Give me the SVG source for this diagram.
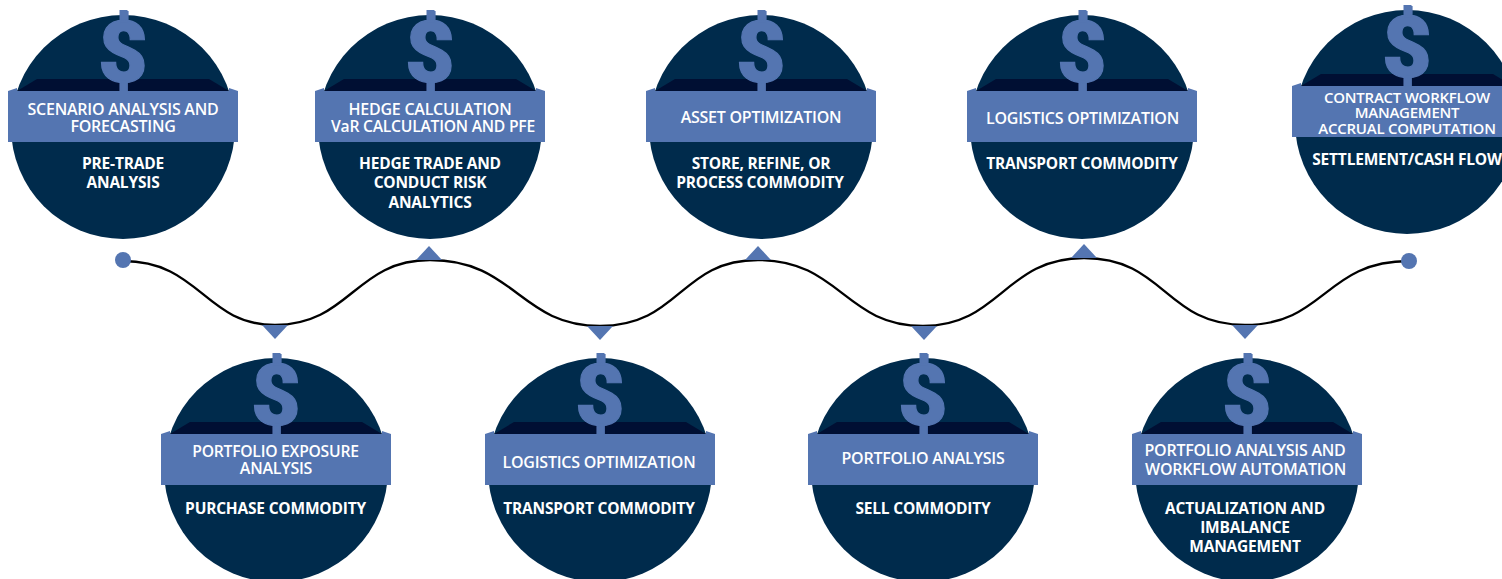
<svg xmlns="http://www.w3.org/2000/svg" xmlns:xlink="http://www.w3.org/1999/xlink" width="1502" height="579" viewBox="0 0 1502 579">
<style>
.c{fill:#002b4c}.b{fill:#5475b1}.d{fill:#000f33}
text{font-family:"Open Sans","Noto Sans",sans-serif;text-anchor:middle;fill:#fff}
.t{font-size:16px;font-weight:600;letter-spacing:-.25px}
.n{font-size:15px}
.s{font-size:15.500px;font-weight:700;letter-spacing:-.2px}
.g{font-family:Roboto,"Open Sans",sans-serif;font-size:86px;font-weight:900;fill:#5475b1;stroke:#5475b1;stroke-width:1.200px}
.line{fill:none;stroke:#000;stroke-width:2.300}
</style>
<defs>
<g id="base">
<circle class="c" cx="0" cy="112" r="112"/>
<polygon class="d" points="-106,76 -86,64 86,64 106,76"/>
<polygon class="b" points="-115,76 -106,73 -106,76"/>
<polygon class="b" points="115,76 106,73 106,76"/>
<rect class="b" x="-3.500" y="-5" width="8" height="12"/>
<rect class="b" x="-3.500" y="60" width="8" height="18"/>
<text class="g" x="0" y="67">$</text>
<rect class="b" x="-115" y="76" width="230" height="51"/>
</g>
</defs>
<g id="connectors">
<path class="line" d="M123,261 C200,261 205,325 275,325 C350,325 355,260 430,260 C515,260 520,326 600,326 C680,326 680,260 758,260 C840,260 845,326 923,326 C1000,326 1005,258 1084,258 C1165,258 1165,325 1245,325 C1325,325 1325,261 1409,261"/>
<circle class="b" cx="123" cy="260" r="8"/>
<circle class="b" cx="1409" cy="261" r="8"/>
<polygon class="b" points="262,325 288,325 275,339"/>
<polygon class="b" points="587,326 613,326 600,340"/>
<polygon class="b" points="911,326 937,326 924,340"/>
<polygon class="b" points="1232,325 1258,325 1245,339"/>
<polygon class="b" points="416,260 442,260 429,246"/>
<polygon class="b" points="745,260 771,260 758,246"/>
<polygon class="b" points="1071,258 1097,258 1084,244"/>
</g>
<g id="n1"><use xlink:href="#base" href="#base" x="123" y="15"/>
<text class="t" x="123" y="115">SCENARIO ANALYSIS AND</text><text class="t" x="123" y="132">FORECASTING</text>
<text class="s" x="123" y="169">PRE-TRADE</text><text class="s" x="123" y="188">ANALYSIS</text></g>
<g id="n2"><use xlink:href="#base" href="#base" x="430" y="15"/>
<text class="t" x="430" y="115">HEDGE CALCULATION</text><text class="t" x="433" y="132" style="font-size:15.700px">VaR CALCULATION AND PFE</text>
<text class="s" x="430" y="169">HEDGE TRADE AND</text><text class="s" x="430" y="188">CONDUCT RISK</text><text class="s" x="430" y="208">ANALYTICS</text></g>
<g id="n3"><use xlink:href="#base" href="#base" x="761" y="15"/>
<text class="t" x="761" y="123">ASSET OPTIMIZATION</text>
<text class="s" x="761" y="169">STORE, REFINE, OR</text><text class="s" x="760" y="188">PROCESS COMMODITY</text></g>
<g id="n4"><use xlink:href="#base" href="#base" x="1082" y="15"/>
<text class="t" x="1082.500" y="124">LOGISTICS OPTIMIZATION</text>
<text class="s" x="1082" y="169">TRANSPORT COMMODITY</text></g>
<g id="n5"><use xlink:href="#base" href="#base" x="1407" y="10"/>
<text class="t n" x="1407" y="103">CONTRACT WORKFLOW</text><text class="t n" x="1407" y="118">MANAGEMENT</text><text class="t n" x="1407" y="134">ACCRUAL COMPUTATION</text>
<text class="s" x="1407" y="165">SETTLEMENT/CASH FLOW</text></g>
<g id="n6"><use xlink:href="#base" href="#base" x="276" y="358"/>
<text class="t" x="275.500" y="457" style="font-size:15.700px">PORTFOLIO EXPOSURE</text><text class="t" x="276" y="474">ANALYSIS</text>
<text class="s" x="275.500" y="514">PURCHASE COMMODITY</text></g>
<g id="n7"><use xlink:href="#base" href="#base" x="600" y="358"/>
<text class="t" x="599" y="468">LOGISTICS OPTIMIZATION</text>
<text class="s" x="599" y="514">TRANSPORT COMMODITY</text></g>
<g id="n8"><use xlink:href="#base" href="#base" x="923" y="358"/>
<text class="t" x="923" y="464">PORTFOLIO ANALYSIS</text>
<text class="s" x="923" y="514">SELL COMMODITY</text></g>
<g id="n9"><use xlink:href="#base" href="#base" x="1247" y="358"/>
<text class="t" x="1245" y="456">PORTFOLIO ANALYSIS AND</text><text class="t" x="1245.500" y="475">WORKFLOW AUTOMATION</text>
<text class="s" x="1245" y="514">ACTUALIZATION AND</text><text class="s" x="1245" y="533">IMBALANCE</text><text class="s" x="1245" y="552">MANAGEMENT</text></g>
</svg>
